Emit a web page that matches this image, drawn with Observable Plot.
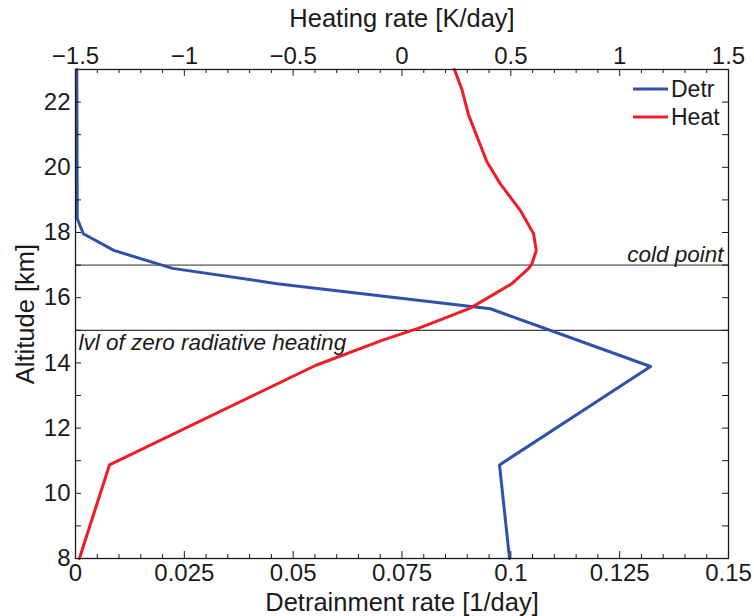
<!DOCTYPE html>
<html><head><meta charset="utf-8">
<script src="https://cdn.jsdelivr.net/npm/d3@7"></script>
<script src="https://cdn.jsdelivr.net/npm/@observablehq/plot@0.6"></script>
<style>
body{margin:0;background:#fff;}
#wrap{position:relative;width:754px;height:616px;font-family:"Liberation Sans",Arial,sans-serif;}
</style></head><body><div id="wrap"></div>
<script>
// ---- data ----
const detrAlt  = [23, 18.43, 17.96, 17.45, 16.9, 16.43, 15.66, 13.89, 10.87, 8];
const detrRate = [0.0003, 0.0004, 0.0018, 0.0088, 0.0223, 0.0463, 0.0953, 0.1321, 0.0974, 0.0997];
const heatAlt  = [23, 22.37, 21.6, 20.17, 19.5, 18.68, 17.97, 17.45, 17.04, 16.89, 16.43, 15.68, 15.08, 14.69, 13.92, 10.87, 8];
const heatRate = [0.241, 0.276, 0.306, 0.39, 0.451, 0.543, 0.604, 0.617, 0.597, 0.581, 0.505, 0.314, 0.084, -0.092, -0.398, -1.344, -1.482];
const refAlt   = [17, 15];
const refLabel = ["cold point", "lvl of zero radiative heating"];
const detrTicks  = [0, 0.025, 0.05, 0.075, 0.1, 0.125, 0.15];
const detrLabels = ["0", "0.025", "0.05", "0.075", "0.1", "0.125", "0.15"];
const heatTicks  = [-1.5, -1, -0.5, 0, 0.5, 1, 1.5];
const heatLabels = ["\u22121.5", "\u22121", "\u22120.5", "0", "0.5", "1", "1.5"];
const altTicks   = [8, 10, 12, 14, 16, 18, 20, 22];
const seriesNames = ["Detr", "Heat"];
const detrDomain = [0, 0.15];
const heatDomain = [-1.5, 1.5];
const altDomain  = [8, 23];

// ---- layout ----
const W = 754, H = 616, mt = 69, mb = 58, ml = 75, mr = 26;
const ph = H - mt - mb, pw = W - ml - mr;
const BLUE = "#2f51a8", RED = "#ee1d25", INK = "#1a1a1a";
const font = "'Liberation Sans', Arial, sans-serif";
const TICKFS = 24, TITLEFS = 25.5;

const toX = h => (h - heatDomain[0]) / (heatDomain[1] - heatDomain[0]) * (detrDomain[1] - detrDomain[0]) + detrDomain[0];
const detrData = detrAlt.map((a, i) => ({alt: a, x: detrRate[i]}));
const heatData = heatAlt.map((a, i) => ({alt: a, x: toX(heatRate[i])}));
const refs = refAlt.map((a, i) => ({alt: a, label: refLabel[i]}));

const minorX = d3.range(0, 31).map(i => +(i * 0.005).toFixed(4)).filter(v => !detrTicks.some(t => Math.abs(t - v) < 1e-9));
const allY = d3.range(altDomain[0] + 1, altDomain[1]);
const heatTickX = heatTicks.map(toX);
const nearest = (arr, v) => arr.reduce((b, t, i) => Math.abs(t - v) < Math.abs(arr[b] - v) ? i : b, 0);

const chart = Plot.plot({
  width: W, height: H,
  marginTop: mt, marginBottom: mb, marginLeft: ml, marginRight: mr,
  style: {fontFamily: font, fontSize: TICKFS + "px", color: INK, background: "white", overflow: "visible"},
  x: {domain: detrDomain},
  y: {domain: altDomain},
  marks: [
    Plot.ruleY([refAlt[0]], {stroke: "#858585", strokeWidth: 1.6}),
    Plot.ruleY([refAlt[1]], {stroke: "#3a3a3a", strokeWidth: 1.3}),
    Plot.text([refs[0]], {y: "alt", text: "label", frameAnchor: "right", textAnchor: "end", lineAnchor: "middle", dx: -5, dy: -10, fontStyle: "italic", fontSize: 22.5, fill: INK}),
    Plot.text([refs[1]], {y: "alt", text: "label", frameAnchor: "left", textAnchor: "start", lineAnchor: "middle", dx: 3, dy: 12, fontStyle: "italic", fontSize: 22.5, fill: INK}),
    Plot.line(detrData, {x: "x", y: "alt", stroke: BLUE, strokeWidth: 3}),
    Plot.line(heatData, {x: "x", y: "alt", stroke: RED, strokeWidth: 3}),
    // inward ticks
    Plot.tickX(detrTicks, {x: d => d, insetTop: ph - 7, stroke: INK}),
    Plot.tickX(minorX, {x: d => d, insetTop: ph - 4, stroke: INK}),
    Plot.tickX(detrTicks, {x: d => d, insetBottom: ph - 7, stroke: INK}),
    Plot.tickX(minorX, {x: d => d, insetBottom: ph - 4, stroke: INK}),
    Plot.tickY(allY, {y: d => d, insetRight: pw - 6, stroke: INK}),
    Plot.tickY(allY, {y: d => d, insetLeft: pw - 6, stroke: INK}),
    Plot.frame({stroke: INK, strokeWidth: 1.3}),
    // axes labels
    Plot.axisX(detrTicks, {anchor: "bottom", tickSize: 0, tickPadding: 5, label: null, fontSize: TICKFS,
      tickFormat: d => detrLabels[nearest(detrTicks, d)]}),
    Plot.axisX(heatTickX, {anchor: "top", tickSize: 0, tickPadding: 6, label: null, fontSize: TICKFS,
      tickFormat: d => heatLabels[nearest(heatTickX, d)]}),
    Plot.axisY(altTicks, {anchor: "left", tickSize: 0, tickPadding: 5, label: null, fontSize: TICKFS}),
    // titles
    Plot.text(["Detrainment rate [1/day]"], {text: d => d, frameAnchor: "bottom", lineAnchor: "middle", dy: 44, fontSize: TITLEFS, fill: INK}),
    Plot.text(["Heating rate [K/day]"], {text: d => d, frameAnchor: "top", lineAnchor: "middle", dy: -51, fontSize: TITLEFS, fill: INK}),
    Plot.text(["Altitude [km]"], {text: d => d, frameAnchor: "left", textAnchor: "middle", lineAnchor: "middle", dx: -50, rotate: -90, fontSize: TITLEFS, fill: INK})
  ]
});

const wrap = document.getElementById("wrap");
wrap.appendChild(chart);

// legend overlay
const colors = [BLUE, RED];
const ns = "http://www.w3.org/2000/svg";
const leg = document.createElementNS(ns, "svg");
leg.setAttribute("width", W); leg.setAttribute("height", H);
leg.style.position = "absolute"; leg.style.left = "0"; leg.style.top = "0"; leg.style.pointerEvents = "none";
seriesNames.forEach((name, i) => {
  const y = 89 + i * 28;
  const ln = document.createElementNS(ns, "line");
  ln.setAttribute("x1", 633); ln.setAttribute("x2", 668);
  ln.setAttribute("y1", y); ln.setAttribute("y2", y);
  ln.setAttribute("stroke", colors[i]); ln.setAttribute("stroke-width", 3);
  leg.appendChild(ln);
  const t = document.createElementNS(ns, "text");
  t.setAttribute("x", 671); t.setAttribute("y", y);
  t.setAttribute("dy", "0.36em");
  t.setAttribute("font-size", 23);
  t.setAttribute("font-family", font);
  t.setAttribute("fill", INK);
  t.textContent = name;
  leg.appendChild(t);
});
wrap.appendChild(leg);
</script></body></html>
